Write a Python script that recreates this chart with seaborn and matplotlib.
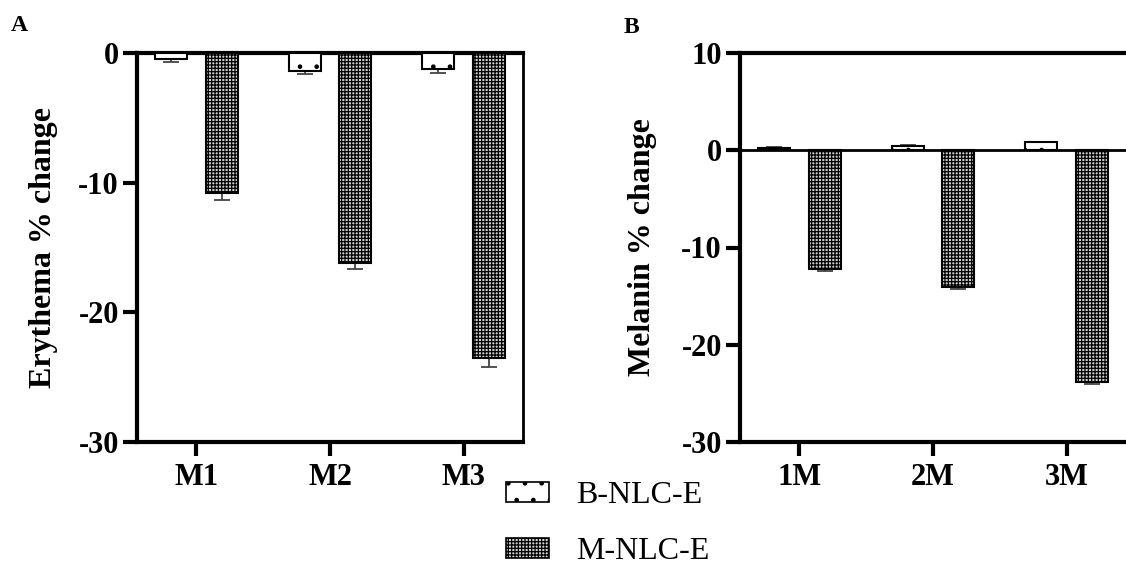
import matplotlib
matplotlib.use("Agg")
import matplotlib.pyplot as plt
from matplotlib.patches import Patch
import seaborn as sns
import pandas as pd

# data
groups = ["B-NLC-E", "M-NLC-E"]
erythema_cats = ["M1", "M2", "M3"]
erythema_b = [-0.45, -1.35, -1.25]
erythema_b_err = [0.25, 0.25, 0.3]
erythema_m = [-10.8, -16.2, -23.5]
erythema_m_err = [0.5, 0.45, 0.75]

melanin_cats = ["1M", "2M", "3M"]
melanin_b = [0.25, 0.5, 0.85]
melanin_b_err = [0.1, 0.1, 0.05]
melanin_m = [-12.2, -14.1, -23.9]
melanin_m_err = [0.2, 0.2, 0.2]

sns.set_style("ticks")
plt.rcParams["font.family"] = ["Liberation Serif", "DejaVu Serif"]
plt.rcParams["axes.unicode_minus"] = False
plt.rcParams["hatch.linewidth"] = 0.9
plt.rcParams["axes.edgecolor"] = "black"
plt.rcParams["xtick.color"] = "black"
plt.rcParams["ytick.color"] = "black"
plt.rcParams["text.color"] = "black"
plt.rcParams["axes.labelcolor"] = "black"

hatches = [".", "+++++"]
fills = ["white", "#d0d0d0"]


def make_df(cats, b, m):
    return pd.DataFrame({
        "cat": cats * 2,
        "group": [groups[0]] * 3 + [groups[1]] * 3,
        "value": b + m,
    })


def draw(ax, cats, b, b_err, m, m_err, ylim, yticks, ylabel, labelx):
    df = make_df(cats, b, m)
    sns.barplot(data=df, x="cat", y="value", hue="group", ax=ax,
                palette=fills, edgecolor="black", linewidth=1.5,
                width=0.76, gap=0.37, errorbar=None, legend=False)
    for cont, h, vals, errs in zip(ax.containers, hatches, [b, m], [b_err, m_err]):
        xs = []
        for p in cont:
            p.set_hatch(h)
            p.set_zorder(3)
            xs.append(p.get_x() + p.get_width() / 2)
        lo = [e if v < 0 else 0 for v, e in zip(vals, errs)]
        up = [e if v >= 0 else 0 for v, e in zip(vals, errs)]
        ax.errorbar(xs, vals, yerr=[lo, up], fmt="none", ecolor="#444444",
                    elinewidth=1.3, capsize=6, capthick=1.3, zorder=2)
    ax.set_xlim(-0.445, 2.445)
    ax.set_ylim(*ylim)
    ax.set_yticks(yticks)
    ax.set_xlabel("")
    ax.set_ylabel(ylabel, fontsize=23, fontweight="bold")
    ax.yaxis.set_label_coords(labelx, 0.5)
    ax.tick_params(axis="both", length=10, width=3, labelsize=22, color="black")
    ax.tick_params(axis="y", pad=3)
    ax.tick_params(axis="x", pad=5)
    for lab in ax.get_xticklabels() + ax.get_yticklabels():
        lab.set_fontweight("bold")
    for s in ["left", "top", "bottom"]:
        ax.spines[s].set_linewidth(3)
        ax.spines[s].set_visible(True)


fig = plt.figure(figsize=(11.26, 5.7), dpi=100)
bottom = 1 - 441.7 / 570
height = 388.4 / 570
ax1 = fig.add_axes([137 / 1126, bottom, 386 / 1126, height])
ax2 = fig.add_axes([740 / 1126, bottom, 386 / 1126, height])

draw(ax1, erythema_cats, erythema_b, erythema_b_err, erythema_m, erythema_m_err,
     (-30, 0), [0, -10, -20, -30], "Erythema % change", -0.205)
ax1.spines["right"].set_visible(True)
ax1.spines["right"].set_linewidth(2)

draw(ax2, melanin_cats, melanin_b, melanin_b_err, melanin_m, melanin_m_err,
     (-30, 10), [10, 0, -10, -20, -30], "Melanin % change", -0.215)
ax2.spines["right"].set_visible(False)
ax2.axhline(0, color="black", linewidth=2, zorder=4)

fig.text(11 / 1126, 1 - 31 / 570, "A", fontsize=17, fontweight="bold")
fig.text(624 / 1126, 1 - 33 / 570, "B", fontsize=17, fontweight="bold")

handles = [Patch(facecolor=c, edgecolor="black", hatch=h, linewidth=1.2)
           for c, h in zip(fills, hatches)]
fig.legend(handles, groups, loc="upper left", bbox_to_anchor=(506 / 1126, 1 - 481 / 570),
           frameon=False, fontsize=23, handlelength=1.35, handleheight=0.6,
           handletextpad=0.85, labelspacing=0.85, borderpad=0, borderaxespad=0)

fig.savefig("out.png", dpi=100)
